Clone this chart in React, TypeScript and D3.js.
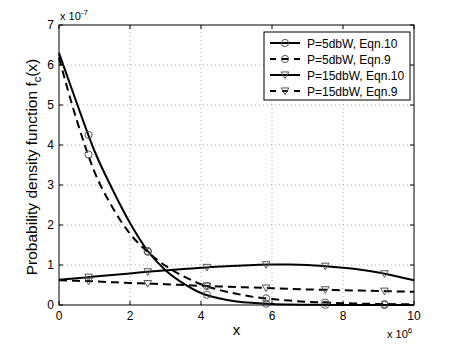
import * as d3 from 'd3';
import React from 'react';

// x in units of 1e6, densities in units of 1e-7
const xs = [0, 0.5, 1, 1.5, 2, 2.5, 3, 3.5, 4, 4.5, 5, 5.5, 6, 6.5, 7, 7.5, 8, 8.5, 9, 9.5, 10];
const p5Eqn10 = [6.3, 5.05, 3.85, 2.9, 2.05, 1.35, 0.87, 0.54, 0.3, 0.17, 0.09, 0.05, 0.025, 0.012, 0.006, 0.003, 0.002, 0.001, 0, 0, 0];
const p5Eqn9 = [6.18, 4.62, 3.33, 2.45, 1.78, 1.33, 0.98, 0.72, 0.52, 0.38, 0.28, 0.2, 0.15, 0.11, 0.08, 0.06, 0.045, 0.035, 0.025, 0.02, 0.015];
const p15Eqn10 = [0.63, 0.67, 0.71, 0.75, 0.79, 0.83, 0.87, 0.9, 0.93, 0.96, 0.98, 1.0, 1.01, 1.01, 1.0, 0.97, 0.93, 0.88, 0.81, 0.72, 0.62];
const p15Eqn9 = [0.62, 0.605, 0.59, 0.57, 0.55, 0.535, 0.52, 0.5, 0.48, 0.465, 0.45, 0.435, 0.42, 0.405, 0.39, 0.38, 0.37, 0.36, 0.35, 0.34, 0.33];
const markerXs = [0.833, 2.5, 4.167, 5.833, 7.5, 9.167];

const xTicks = [0, 2, 4, 6, 8, 10];
const yTicks = [0, 1, 2, 3, 4, 5, 6, 7];

const series = [
  { name: 'P=5dbW, Eqn.10', values: p5Eqn10, dashed: false, marker: 'circle' },
  { name: 'P=5dbW, Eqn.9', values: p5Eqn9, dashed: true, marker: 'circle' },
  { name: 'P=15dbW, Eqn.10', values: p15Eqn10, dashed: false, marker: 'triangle' },
  { name: 'P=15dbW, Eqn.9', values: p15Eqn9, dashed: true, marker: 'triangle' },
];

const W = 457, H = 344;
const m = { left: 59, right: 43, top: 25, bottom: 39 };
const font = 'Liberation Sans, Arial, Helvetica, sans-serif';

function Marker({ type, x, y }: { type: string; x: number; y: number }) {
  if (type === 'circle') {
    return <circle cx={x} cy={y} r={3.6} fill="none" stroke="#555" strokeWidth={1} />;
  }
  const s = 3.8;
  return (
    <path
      d={`M${x - s},${y - s * 0.8} L${x + s},${y - s * 0.8} L${x},${y + s * 0.95} Z`}
      fill="none" stroke="#555" strokeWidth={1}
    />
  );
}

export default function App() {
  const x = d3.scaleLinear().domain([0, 10]).range([m.left, W - m.right]);
  const y = d3.scaleLinear().domain([0, 7]).range([H - m.bottom, m.top]);

  const line = d3.line<number>()
    .x((_, i) => x(xs[i]))
    .y((d) => y(d))
    .curve(d3.curveMonotoneX);

  const x0 = x(0), x1 = x(10), y0 = y(0), y1 = y(7);
  const tl = 4;

  const legX = 264, legY = 32, legW = 146, legH = 68;

  return (
    <svg width={W} height={H} style={{ position: 'absolute', left: 0, top: 0, background: '#fff' }} fontFamily={font}>
      <rect width={W} height={H} fill="#fff" />
      {/* grid */}
      <g stroke="#999" strokeWidth={0.8} strokeDasharray="1,3">
        {xTicks.slice(1, -1).map((t) => (
          <line key={'gx' + t} x1={x(t)} x2={x(t)} y1={y0} y2={y1} />
        ))}
        {yTicks.slice(1, -1).map((t) => (
          <line key={'gy' + t} x1={x0} x2={x1} y1={y(t)} y2={y(t)} />
        ))}
      </g>

      {/* curves */}
      {series.map((s) => {
        const interp = d3.scaleLinear().domain(xs).range(s.values);
        return (
          <g key={s.name}>
            <path d={line(s.values) || ''} fill="none" stroke="#000" strokeWidth={2}
              strokeDasharray={s.dashed ? '8,5' : undefined} />
            {markerXs.map((mx) => (
              <Marker key={mx} type={s.marker} x={x(mx)} y={y(interp(mx))} />
            ))}
          </g>
        );
      })}

      {/* axes box and ticks */}
      <rect x={x0} y={y1} width={x1 - x0} height={y0 - y1} fill="none" stroke="#000" strokeWidth={1} />
      <g stroke="#000" strokeWidth={1}>
        {xTicks.map((t) => (
          <g key={'tx' + t}>
            <line x1={x(t)} x2={x(t)} y1={y0} y2={y0 - tl} />
            <line x1={x(t)} x2={x(t)} y1={y1} y2={y1 + tl} />
          </g>
        ))}
        {yTicks.map((t) => (
          <g key={'ty' + t}>
            <line x1={x0} x2={x0 + tl} y1={y(t)} y2={y(t)} />
            <line x1={x1} x2={x1 - tl} y1={y(t)} y2={y(t)} />
          </g>
        ))}
      </g>

      {/* tick labels */}
      <g fontSize={12} fill="#000">
        {xTicks.map((t) => (
          <text key={'lx' + t} x={x(t)} y={y0 + 15} textAnchor="middle">{t}</text>
        ))}
        {yTicks.map((t) => (
          <text key={'ly' + t} x={x0 - 5} y={y(t) + 4} textAnchor="end">{t}</text>
        ))}
      </g>

      {/* exponent labels */}
      <text x={x0 + 1} y={y1 - 5} fontSize={11}>
        x 10<tspan dy={-5} fontSize={8}>-7</tspan>
      </text>
      <text x={x1 - 27} y={y0 + 33} fontSize={11}>
        x 10<tspan dy={-5} fontSize={8}>6</tspan>
      </text>

      {/* axis labels */}
      <text x={(x0 + x1) / 2} y={335} fontSize={15} textAnchor="middle">x</text>
      <text transform={`translate(37,167) rotate(-90)`} fontSize={15.5} textAnchor="middle">
        Probability density function f<tspan dy={4} fontSize={11}>c</tspan><tspan dy={-4}>(x)</tspan>
      </text>

      {/* legend */}
      <rect x={legX} y={legY} width={legW} height={legH} fill="#fff" stroke="#000" strokeWidth={1} />
      {series.map((s, i) => {
        const cy = legY + 11 + i * 16;
        return (
          <g key={'leg' + s.name}>
            <line x1={legX + 6} x2={legX + 36} y1={cy} y2={cy} stroke="#000" strokeWidth={2}
              strokeDasharray={s.dashed ? '6,6' : undefined} />
            <Marker type={s.marker} x={legX + 21} y={cy} />
            <text x={legX + 43} y={cy + 4.5} fontSize={12}>{s.name}</text>
          </g>
        );
      })}
    </svg>
  );
}
